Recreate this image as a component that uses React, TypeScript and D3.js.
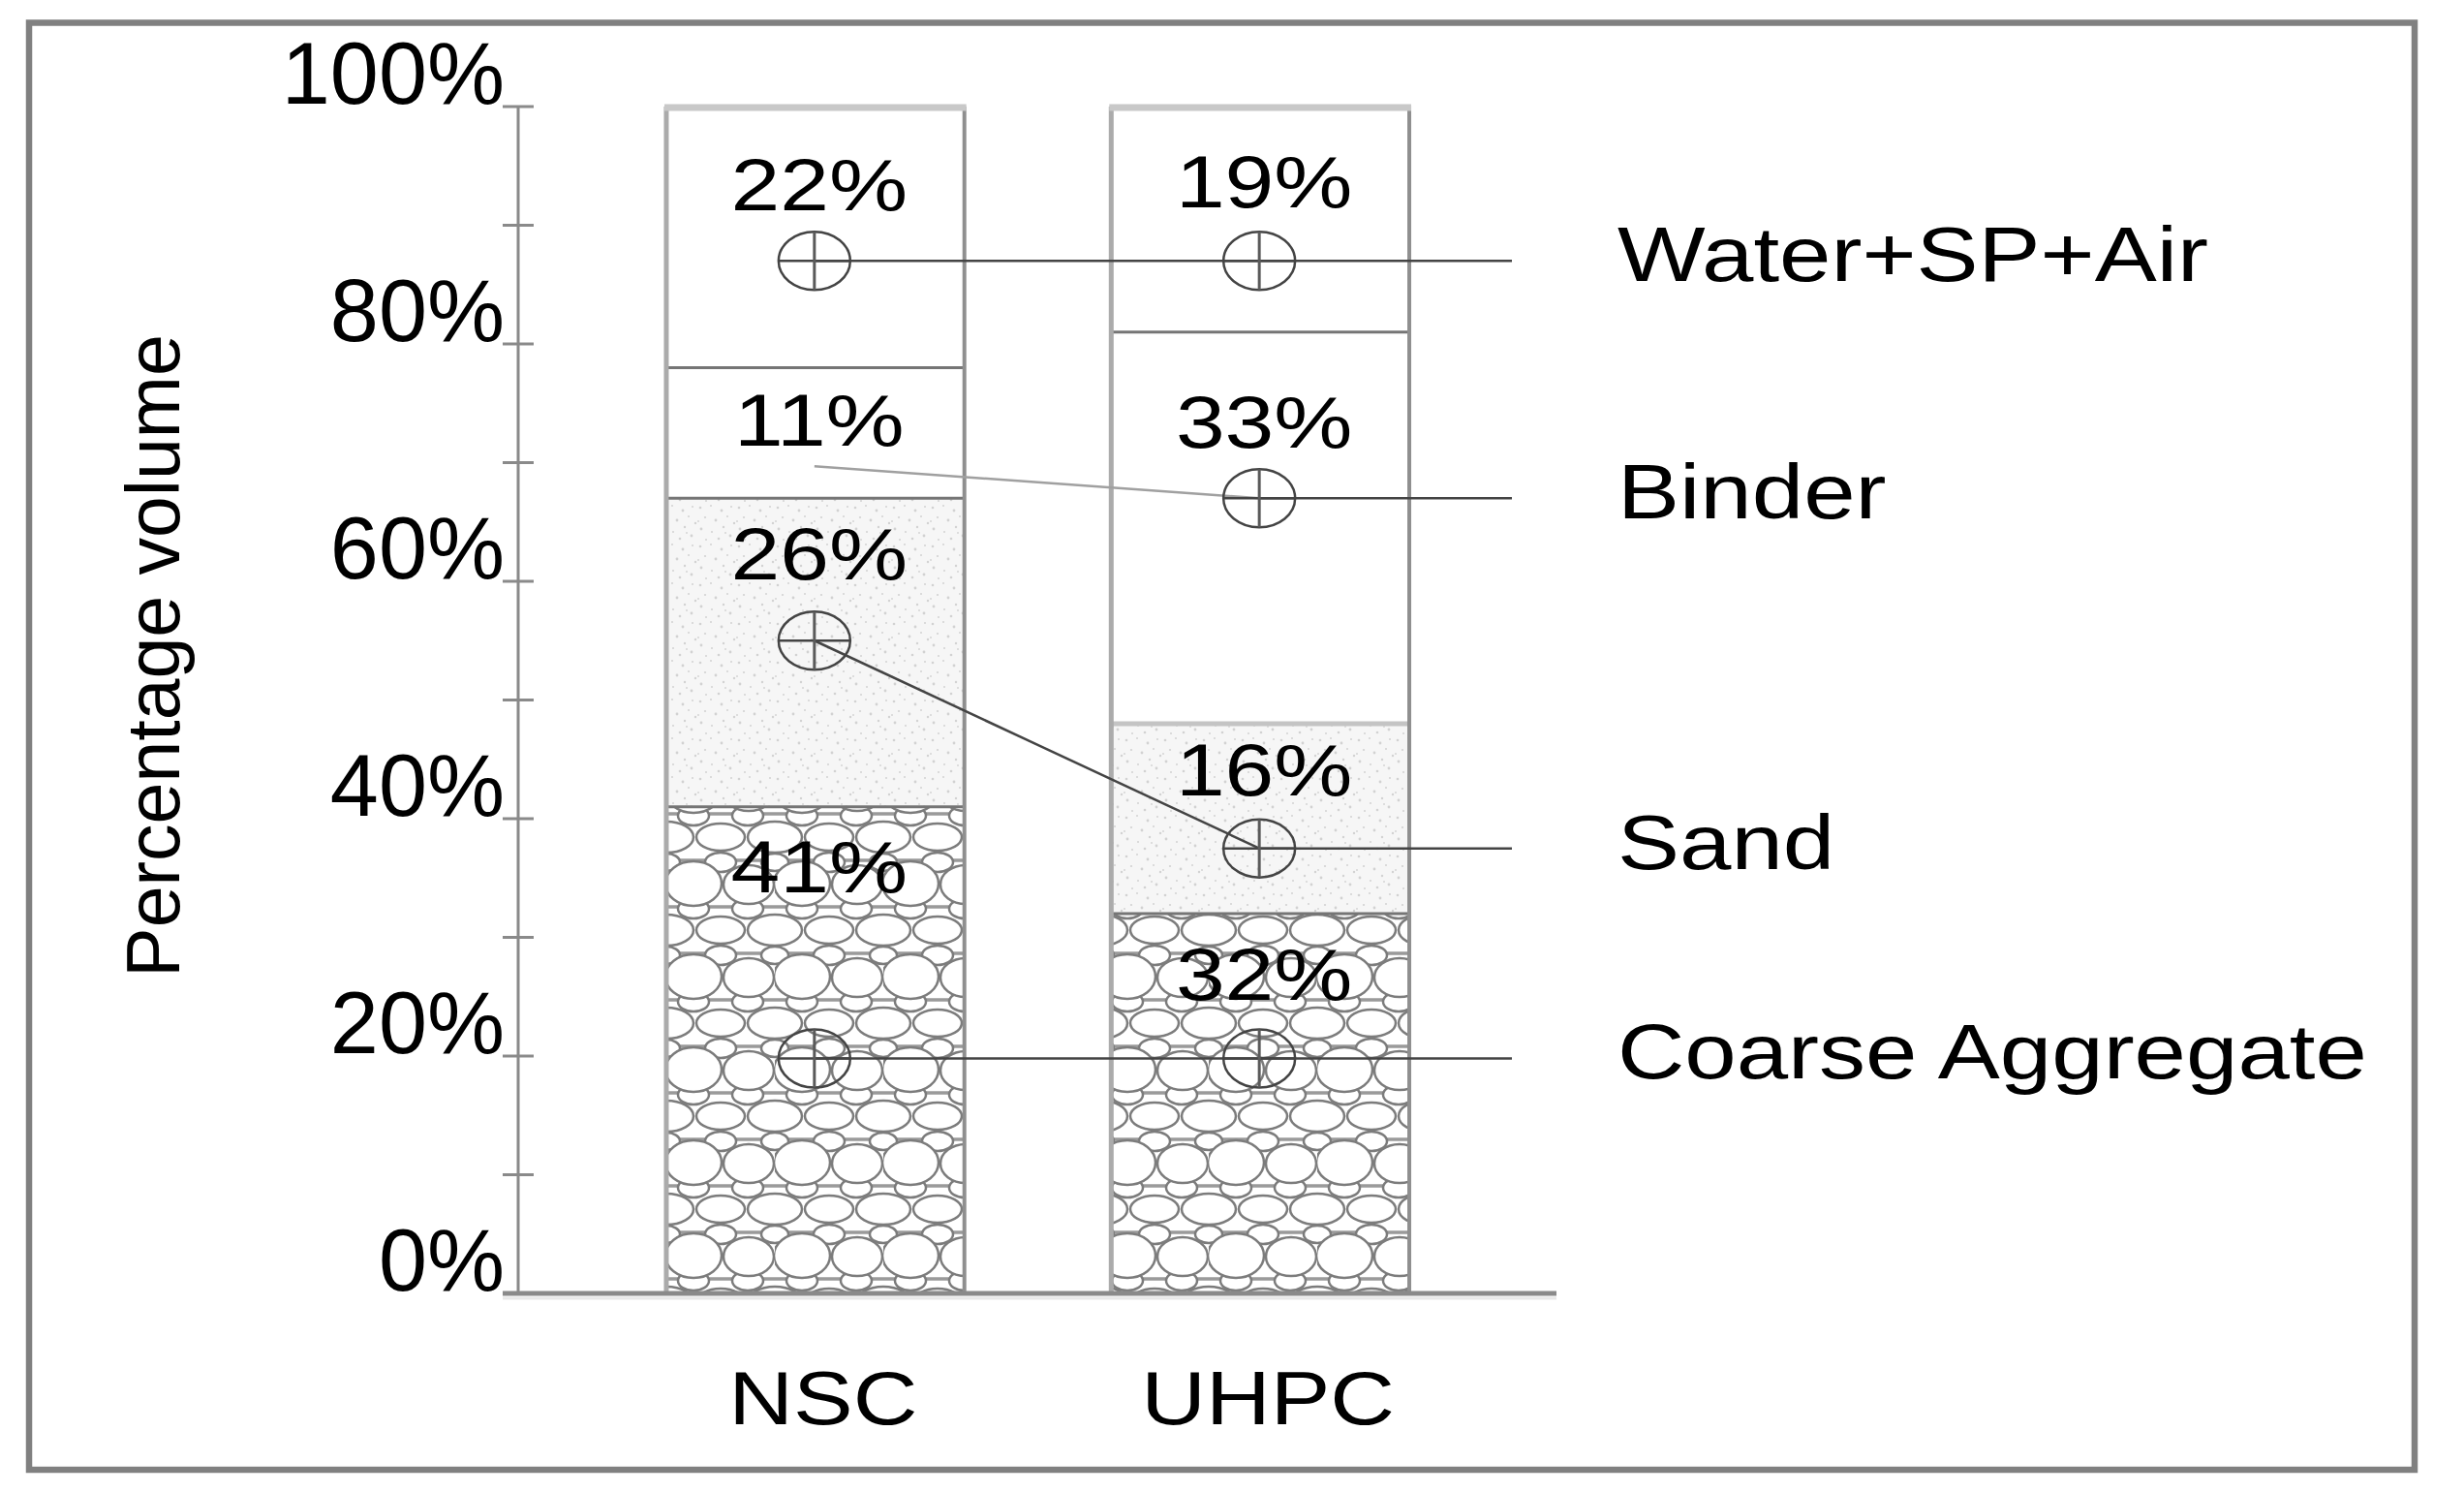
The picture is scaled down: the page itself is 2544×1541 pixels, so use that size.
import * as d3 from "d3";
import React from "react";

// data (percentage volume)
const categories = ["NSC", "UHPC"];
const components = ["Coarse Aggregate", "Sand", "Binder", "Water+SP+Air"];
const nscValues = [41, 26, 11, 22];
const uhpcValues = [32, 16, 33, 19];

const yTicks = [0, 20, 40, 60, 80, 100];
const yMinorTicks = [10, 30, 50, 70, 90];

// where the value labels and the leader markers sit (in % of volume)
const nscLabelAt = [33.8, 60.2, 71.4, 91.3];
const uhpcLabelAt = [24.7, 42.0, 71.3, 91.5];
const nscMarkerAt = [19.8, 55, 69.7, 87];
const uhpcMarkerAt = [19.8, 37.5, 67, 87];
const nscHasMarker = [true, true, false, true];

const W = 2544;
const H = 1541;
const FONT = "'Liberation Sans', Arial, sans-serif";

const fills = ["url(#coarse)", "url(#sand)", "#ffffff", "#ffffff"];

const sandDots = [
  [3, 4, 1.3], [14, 2, 1], [25, 7, 1.4], [35, 3, 1], [8, 14, 1.1], [19, 17, 1.4],
  [31, 13, 1], [38, 20, 1.2], [4, 26, 1.4], [15, 29, 1], [27, 24, 1.2], [34, 33, 1.4],
  [9, 37, 1], [22, 36, 1.3], [1, 18, 0.9], [29, 30, 0.9],
];

const App = () => {
  const table = categories.map((c, i) => {
    const row: any = { name: c };
    components.forEach((k, j) => {
      row[k] = i === 0 ? nscValues[j] : uhpcValues[j];
    });
    return row;
  });
  const series = d3.stack().keys(components)(table);

  const x = d3
    .scaleBand()
    .domain(categories)
    .range([535, 1608])
    .paddingInner(0.33)
    .paddingOuter(0.333);
  const y = d3.scaleLinear().domain([0, 100]).range([1335, 110]);

  const bw = x.bandwidth();
  const cx = (c: string) => (x(c) as number) + bw / 2 - 1;
  const leaderEnd = 1561;
  const labelX = 1670;

  const labelAt = [nscLabelAt, uhpcLabelAt];
  const markerAt = [nscMarkerAt, uhpcMarkerAt];
  const rx = 37;
  const ry = 30;

  const line = d3.line();

  return (
    <div style={{ position: "absolute", left: 0, top: 0 }}>
      <svg width={W} height={H} style={{ display: "block", background: "#fff" }}>
        <defs>
          <pattern id="sand" patternUnits="userSpaceOnUse" width={40} height={40}>
            <rect width={40} height={40} fill="#f6f6f6" />
            {sandDots.map((d, i) => (
              <circle key={i} cx={d[0]} cy={d[1]} r={d[2]} fill="#d2d2d2" />
            ))}
          </pattern>
          <pattern id="coarse" patternUnits="userSpaceOnUse" width={112} height={96} x={688} y={0}>
            <rect width={112} height={96} fill="#fff" />
            <line x1={0} x2={112} y1={24} y2={24} stroke="#9a9a9a" strokeWidth={3.5} />
            <line x1={0} x2={112} y1={72} y2={72} stroke="#9a9a9a" strokeWidth={3.5} />
            <g fill="#fff" stroke="#7c7c7c" strokeWidth={2.5}>
              <ellipse cx={56} cy={26} rx={16} ry={10} />
              <ellipse cx={0} cy={26} rx={14} ry={9} />
              <ellipse cx={112} cy={26} rx={14} ry={9} />
              <ellipse cx={28} cy={74} rx={16} ry={10} />
              <ellipse cx={84} cy={74} rx={16} ry={10} />
              <ellipse cx={0} cy={0} rx={28} ry={16} />
              <ellipse cx={56} cy={0} rx={25} ry={14} />
              <ellipse cx={112} cy={0} rx={28} ry={16} />
              <ellipse cx={0} cy={96} rx={28} ry={16} />
              <ellipse cx={56} cy={96} rx={25} ry={14} />
              <ellipse cx={112} cy={96} rx={28} ry={16} />
              <ellipse cx={28} cy={48} rx={29} ry={23} />
              <ellipse cx={85} cy={49} rx={26} ry={20} />
            </g>
          </pattern>
        </defs>

        {/* frame */}
        <rect x={30} y={23.5} width={2463} height={1493.5} fill="none" stroke="#808080" strokeWidth={6.5} />

        {/* stacked bars */}
        {series.map((s, si) =>
          s.map((d, ci) => {
            const c = categories[ci];
            return (
              <rect
                key={`${si}-${ci}`}
                x={x(c)}
                y={y(d[1])}
                width={bw}
                height={y(d[0]) - y(d[1])}
                fill={fills[si]}
              />
            );
          })
        )}
        {/* segment borders */}
        {series.slice(0, -1).map((s, si) =>
          s.map((d, ci) => {
            const c = categories[ci];
            return (
              <line
                key={`b${si}-${ci}`}
                x1={x(c)}
                x2={(x(c) as number) + bw}
                y1={y(d[1])}
                y2={y(d[1])}
                stroke={si === 1 && ci === 1 ? "#c4c4c4" : "#757575"}
                strokeWidth={si === 1 && ci === 1 ? 5 : 3}
              />
            );
          })
        )}
        {categories.map((c) => (
          <g key={`o${c}`}>
            <line x1={x(c)} x2={x(c)} y1={y(100)} y2={y(0)} stroke="#ababab" strokeWidth={5} />
            <line
              x1={(x(c) as number) + bw}
              x2={(x(c) as number) + bw}
              y1={y(100)}
              y2={y(0)}
              stroke="#8f8f8f"
              strokeWidth={4}
            />
            <line
              x1={(x(c) as number) - 2}
              x2={(x(c) as number) + bw + 2}
              y1={y(100) + 1}
              y2={y(100) + 1}
              stroke="#c8c8c8"
              strokeWidth={7}
            />
          </g>
        ))}

        {/* y axis */}
        <line x1={535} x2={535} y1={y(100)} y2={y(0)} stroke="#8a8a8a" strokeWidth={3} />
        {yTicks.concat(yMinorTicks).map((t) => (
          <line key={`t${t}`} x1={519} x2={551} y1={y(t)} y2={y(t)} stroke="#8a8a8a" strokeWidth={3} />
        ))}
        {yTicks.map((t) => (
          <text
            key={`l${t}`}
            x={521}
            y={y(t) - 3}
            textAnchor="end"
            fontFamily={FONT}
            fontSize={90}
            fill="#000"
          >
            {t}%
          </text>
        ))}
        <text
          transform={`translate(185,677) rotate(-90)`}
          textAnchor="middle"
          fontFamily={FONT}
          fontSize={77}
          fill="#000"
        >
          Percentage volume
        </text>

        {/* x axis */}
        <line x1={519} x2={1607} y1={y(0)} y2={y(0)} stroke="#8a8a8a" strokeWidth={5} />
        <line x1={519} x2={1607} y1={y(0) + 5} y2={y(0) + 5} stroke="#e8e8e8" strokeWidth={3} />
        {categories.map((c) => (
          <text
            key={`x${c}`}
            transform={`translate(${cx(c) + 9},1470) scale(1.2,1)`}
            textAnchor="middle"
            fontFamily={FONT}
            fontSize={77}
            fill="#000"
          >
            {c}
          </text>
        ))}

        {/* value labels */}
        {series.map((s, si) =>
          s.map((d, ci) => {
            const c = categories[ci];
            return (
              <text
                key={`v${si}-${ci}`}
                transform={`translate(${cx(c) + 5},${y(labelAt[ci][si])}) scale(1.2,1)`}
                textAnchor="middle"
                fontFamily={FONT}
                fontSize={76}
                fill="#000"
              >
                {d[1] - d[0]}%
              </text>
            );
          })
        )}

        {/* leaders */}
        {components.map((k, si) => {
          const p0: [number, number] = [cx(categories[0]), y(markerAt[0][si])];
          const p1: [number, number] = [cx(categories[1]), y(markerAt[1][si])];
          const p2: [number, number] = [leaderEnd, y(markerAt[1][si])];
          const faint = !nscHasMarker[si];
          return (
            <g key={`ld${k}`}>
              <path
                d={line([p0, p1]) as string}
                fill="none"
                stroke={faint ? "#a0a0a0" : "#444"}
                strokeWidth={2.5}
              />
              <path d={line([p1, p2]) as string} fill="none" stroke="#444" strokeWidth={2.5} />
              {categories.map((c, ci) =>
                ci === 0 && !nscHasMarker[si] ? null : (
                  <g key={`m${c}`}>
                    <ellipse
                      cx={cx(c)}
                      cy={y(markerAt[ci][si])}
                      rx={rx}
                      ry={ry}
                      fill="none"
                      stroke="#444"
                      strokeWidth={2.5}
                    />
                    <line
                      x1={cx(c) - rx}
                      x2={cx(c) + rx}
                      y1={y(markerAt[ci][si])}
                      y2={y(markerAt[ci][si])}
                      stroke="#444"
                      strokeWidth={2.5}
                    />
                    <line
                      x1={cx(c)}
                      x2={cx(c)}
                      y1={y(markerAt[ci][si]) - ry}
                      y2={y(markerAt[ci][si]) + ry}
                      stroke="#5a5a5a"
                      strokeWidth={3}
                    />
                  </g>
                )
              )}
              <text
                transform={`translate(${labelX},${y(markerAt[1][si]) + 21}) scale(1.2,1)`}
                fontFamily={FONT}
                fontSize={80}
                fill="#000"
              >
                {k}
              </text>
            </g>
          );
        })}
      </svg>
    </div>
  );
};

export default App;
